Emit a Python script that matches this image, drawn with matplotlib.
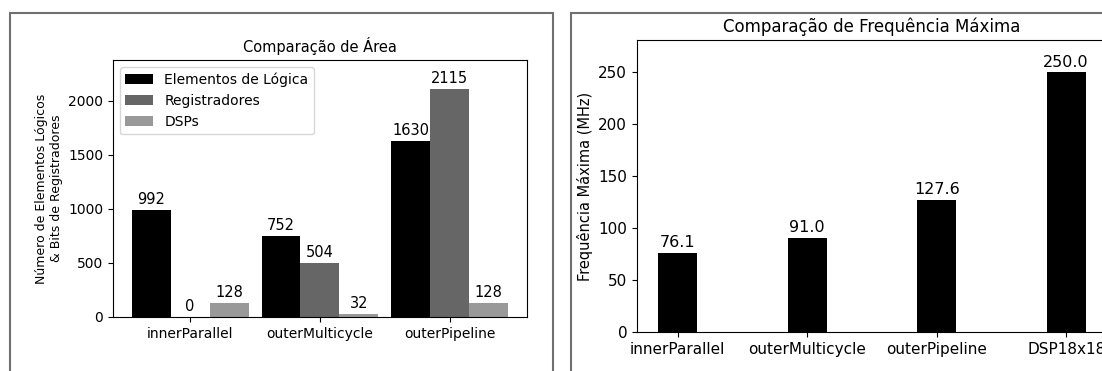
'''
Area and max frequency comparison of the multiplier designs
'''
import numpy as np
import matplotlib
matplotlib.use('Agg')
import matplotlib.pyplot as plt
from matplotlib.patches import Rectangle

# area data
area_designs = ['innerParallel', 'outerMulticycle', 'outerPipeline']
logic_elements = [992, 752, 1630]
registers = [0, 504, 2115]
dsps = [128, 32, 128]

# max frequency data
freq_designs = ['innerParallel', 'outerMulticycle', 'outerPipeline', 'DSP18x18']
fmax = [76.1, 91.0, 127.6, 250.0]

fig = plt.figure(figsize=(11.02, 3.71), dpi=100)

# gray frames around each panel
fig.patches.append(Rectangle((0.0091, -0.1), 0.4927, 1.065, transform=fig.transFigure,
                             fill=False, edgecolor='#707070', linewidth=1.5))
fig.patches.append(Rectangle((0.518, -0.1), 0.6, 1.065, transform=fig.transFigure,
                             fill=False, edgecolor='#707070', linewidth=1.5))

# left: area comparison
ax1 = fig.add_axes([0.1025, 0.1456, 0.3757, 0.6927])
x = np.arange(len(area_designs))
w = 0.3
b1 = ax1.bar(x - w, logic_elements, w, color='black', label='Elementos de Lógica')
b2 = ax1.bar(x, registers, w, color='#666666', label='Registradores')
b3 = ax1.bar(x + w, dsps, w, color='#999999', label='DSPs')
for b in (b1, b2, b3):
    ax1.bar_label(b, padding=2, fontsize=10.5)
ax1.set_xticks(x)
ax1.set_xticklabels(area_designs, fontsize=10)
ax1.tick_params(axis='y', labelsize=10)
ax1.set_ylim(0, max(registers) * 1.125)
ax1.set_ylabel('Número de Elementos Lógicos\n& Bits de Registradores', fontsize=9)
ax1.set_title('Comparação de Área', fontsize=10.5)
ax1.legend(loc='upper left', fontsize=10)

# right: max frequency comparison
ax2 = fig.add_axes([0.578, 0.1051, 0.4265, 0.787])
x2 = np.arange(len(freq_designs))
b4 = ax2.bar(x2, fmax, 0.3, color='black')
ax2.bar_label(b4, fmt='%.1f', padding=2, fontsize=11.5)
ax2.set_xticks(x2)
ax2.set_xticklabels(freq_designs, fontsize=11)
ax2.tick_params(axis='y', labelsize=11)
ax2.set_ylim(0, max(fmax) * 1.125)
ax2.set_ylabel('Frequência Máxima (MHz)', fontsize=10.5)
ax2.set_title('Comparação de Frequência Máxima', fontsize=12)

fig.savefig('out.png', dpi=100)
